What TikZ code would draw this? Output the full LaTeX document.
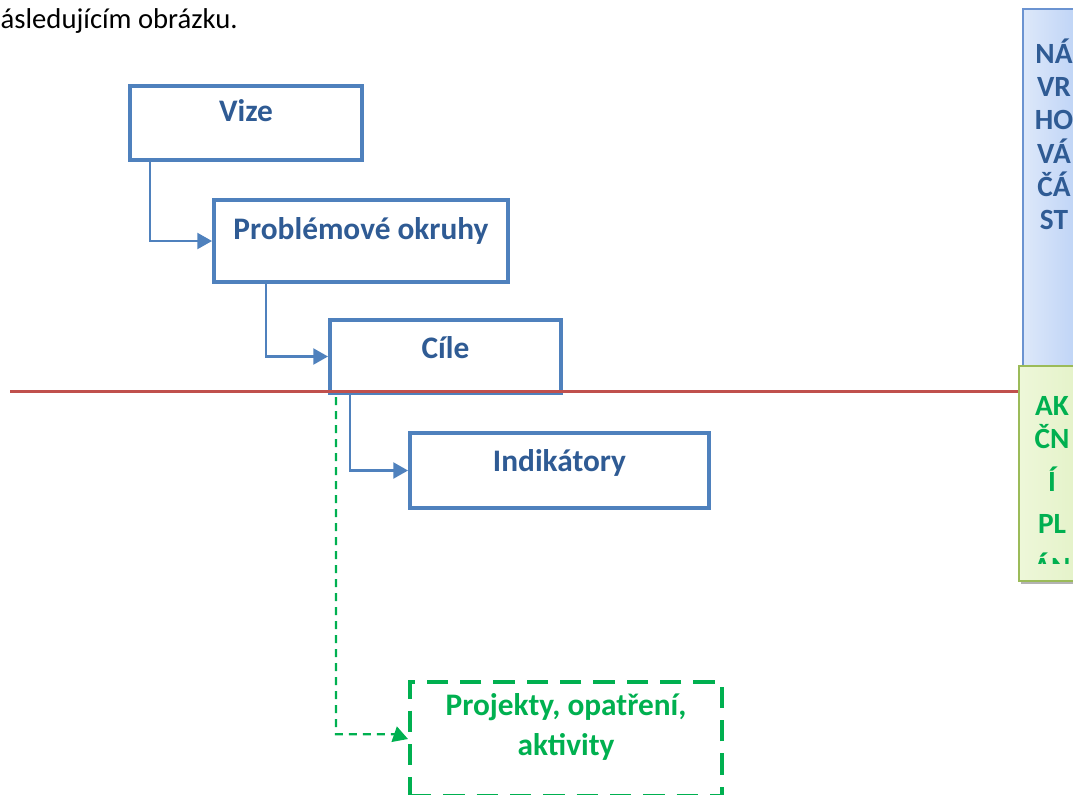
\documentclass[tikz,border=0pt]{standalone}
\usepackage{fontspec}
\setmainfont{Carlito}
\usetikzlibrary{arrows.meta,calc,shadows}
\definecolor{boxblue}{HTML}{4F81BD}
\definecolor{txtblue}{HTML}{2F5B94}
\definecolor{actgreen}{HTML}{00B050}
\definecolor{cutred}{HTML}{C0504D}
\definecolor{sidebluel}{HTML}{DDE8FA}
\definecolor{sideblued}{HTML}{B0CAF4}
\definecolor{sidebluebd}{HTML}{6B93D1}
\definecolor{sidegreenl}{HTML}{EEF7D9}
\definecolor{sidegreend}{HTML}{E0F0C2}
\definecolor{sidegreenbd}{HTML}{9BBB59}
\begin{document}
\begin{tikzpicture}[x=0.75pt, y=-0.75pt,
    blubox/.style={draw=boxblue, line width=3pt, fill=white, minimum width=#1, inner sep=0pt},
    blutext/.style={text=txtblue, anchor=base, font=\fontsize{23.5}{30}\selectfont\bfseries},
    actbox/.style={draw=actgreen, line width=3pt, dash pattern=on 16pt off 9pt, minimum width=234pt, minimum height=85.5pt, inner sep=0pt},
    acttext/.style={text=actgreen, anchor=base, align=center, font=\fontsize{23.5}{30}\selectfont\bfseries},
    sidetext/.style={anchor=base, font=\fontsize{22}{26}\selectfont\bfseries},
    conn/.style={draw=boxblue, line width=1.6pt, -{Triangle[length=11pt,width=12pt]}},
    actconn/.style={draw=actgreen, line width=1.7pt, dash pattern=on 6pt off 4.5pt, -{Triangle[length=11pt,width=12pt]}}]
        \clip (0,0) rectangle (1073,794);

        \node[anchor=base west, font=\fontsize{21.5}{25}\selectfont] (intro) at (-4,28) {ásledujícím obrázku.};

        % levy sloupec
        \node[blubox=174pt, minimum height=55.5pt] (vize)   at (246,123) {};
        \node[blubox=220.5pt, minimum height=61.5pt] (okruhy) at (361,241) {};
        \node[blubox=173.25pt, minimum height=54.75pt] (cile)  at (445.5,356.5) {};
        \node[blubox=224.25pt, minimum height=56.25pt] (indik) at (559.5,470.5) {};
        \node[actbox] (proj) at (566,739) {};

        \node[blutext] (vizet)   at (246,121) {Vize};
        \node[blutext] (okruhyt) at (361,239) {Problémové okruhy};
        \node[blutext] (cilet)   at (445.5,358) {Cíle};
        \node[blutext] (indikt)  at (559.5,471) {Indikátory};
        \node[acttext] (projt)   at (566,755) {Projekty, opatření,\\aktivity};

        \draw[conn] ($(vize.south west)+(22,0)$) |- (okruhy.west);
        \draw[conn] ($(okruhy.south west)+(54,0)$) |- (cile.west);
        \draw[conn] ($(cile.south west)+(22,0)$) |- (indik.west);

        \coordinate (ohyb) at ($(cile.south west)+(8,733-393.875)$);
        \coordinate (ohyb2) at ($(ohyb)+(58,0)$);
        \draw[actconn] ($(cile.south west)+(8,2)$) -- (ohyb) -- (ohyb2) -- (proj.west);

        % hranice navrhova / akcni cast
        \draw[cutred, line width=2.25pt] (10,391) -- (1073,391);

        % pravy sloupec
        \node[draw=sidebluebd, line width=1.5pt, left color=sidebluel, right color=sideblued, minimum width=60pt, minimum height=268pt, anchor=north west] (navrh) at (1022,8) {};
        \foreach \t/\y in {NÁ/63, VR/96, HO/129, VÁ/163, ČÁ/196, ST/229}
            \node[sidetext, text=txtblue] at (1054,\y) {\t};

        \node[draw=sidegreenbd, line width=1.5pt, left color=sidegreenl, right color=sidegreend, minimum width=63pt, minimum height=161pt, anchor=north west,
              drop shadow={shadow xshift=1.5pt, shadow yshift=-2.5pt, opacity=0.6, fill=gray}] (akce) at (1018,365) {};
        \begin{scope}
            \clip (1019,366) rectangle (1080,563);
            \foreach \t/\y in {AK/415, ČN/448, Í/491, PL/533, ÁN/577}
                \node[sidetext, text=actgreen] at (1052,\y) {\t};
        \end{scope}
      \end{tikzpicture}
\end{document}
